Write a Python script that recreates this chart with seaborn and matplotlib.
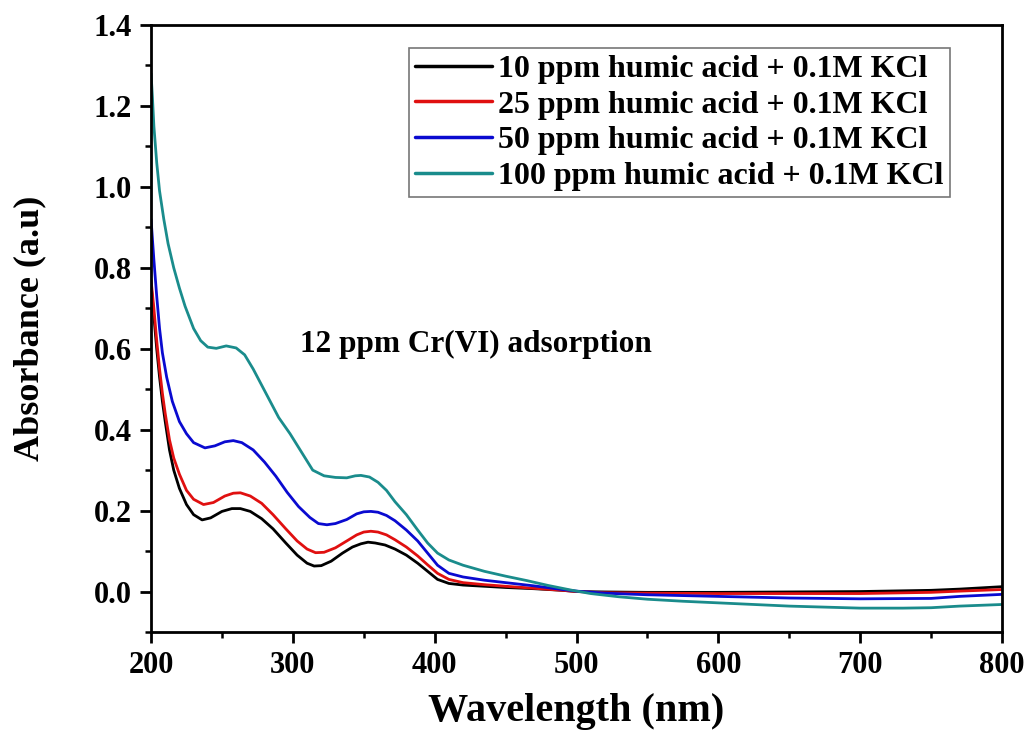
import matplotlib
matplotlib.use("Agg")
import matplotlib.pyplot as plt
from matplotlib.ticker import MultipleLocator
import numpy as np
import pandas as pd
import seaborn as sns

# wavelength (nm) / absorbance (a.u)
wl_10 = [200, 202, 204, 206, 208, 210, 213, 216, 220, 225, 230, 236, 242, 250, 257, 263, 270, 278, 286,
         295, 303, 310, 315, 320, 327, 335, 342, 348, 353, 358, 365, 372, 380, 388, 395, 402, 410, 420,
         435, 450, 470, 490, 500, 520, 550, 600, 650, 700, 750, 770, 800]
abs_10 = [0.76, 0.68, 0.60, 0.53, 0.47, 0.42, 0.35, 0.30, 0.255, 0.215, 0.19, 0.177, 0.182, 0.198, 0.205,
          0.205, 0.198, 0.18, 0.155, 0.12, 0.09, 0.07, 0.063, 0.064, 0.075, 0.095, 0.11, 0.118, 0.122,
          0.12, 0.115, 0.105, 0.09, 0.07, 0.05, 0.03, 0.02, 0.016, 0.013, 0.01, 0.007, 0.003, 0.0,
          -0.001, -0.002, -0.002, -0.001, 0.0, 0.003, 0.006, 0.012]

wl_25 = [200, 202, 204, 206, 208, 210, 213, 216, 220, 225, 230, 237, 244, 252, 258, 263, 270, 278, 286,
         295, 303, 310, 316, 322, 330, 338, 345, 350, 355, 360, 366, 372, 380, 388, 395, 402, 410, 420,
         435, 450, 470, 490, 500, 520, 550, 600, 650, 700, 750, 770, 800]
abs_25 = [0.77, 0.70, 0.62, 0.55, 0.49, 0.44, 0.375, 0.33, 0.29, 0.25, 0.228, 0.215, 0.22, 0.236, 0.243,
          0.244, 0.236, 0.218, 0.19, 0.155, 0.125, 0.105, 0.096, 0.097, 0.108, 0.125, 0.14, 0.147,
          0.149, 0.147, 0.14, 0.128, 0.11, 0.088, 0.066, 0.045, 0.03, 0.022, 0.017, 0.013, 0.008,
          0.003, 0.0, -0.003, -0.004, -0.005, -0.005, -0.005, -0.002, 0.001, 0.005]

wl_50 = [200, 202, 204, 206, 208, 211, 215, 220, 225, 230, 238, 245, 252, 258, 264, 272, 280, 288, 296,
         304, 312, 318, 324, 330, 338, 345, 350, 355, 360, 366, 372, 380, 388, 395, 402, 410, 420, 435,
         450, 470, 490, 500, 520, 550, 600, 650, 700, 750, 770, 800]
abs_50 = [0.92, 0.82, 0.73, 0.65, 0.59, 0.53, 0.47, 0.42, 0.39, 0.368, 0.355, 0.36, 0.37, 0.373, 0.368,
          0.35, 0.32, 0.285, 0.245, 0.21, 0.183, 0.168, 0.165, 0.168, 0.178, 0.192, 0.197, 0.198,
          0.196, 0.188, 0.175, 0.152, 0.125, 0.095, 0.065, 0.045, 0.036, 0.028, 0.022, 0.014, 0.005,
          0.001, -0.004, -0.008, -0.012, -0.016, -0.018, -0.017, -0.012, -0.007]

wl_100 = [200, 201, 202, 204, 206, 209, 212, 216, 220, 224, 230, 235, 240, 246, 253, 260, 266, 272, 278,
          284, 290, 298, 306, 314, 322, 330, 338, 344, 348, 354, 360, 366, 372, 380, 388, 395, 402, 410,
          420, 435, 450, 465, 480, 497, 510, 530, 550, 575, 600, 650, 700, 730, 750, 770, 800]
abs_100 = [1.28, 1.22, 1.15, 1.06, 0.99, 0.92, 0.86, 0.80, 0.75, 0.705, 0.65, 0.62, 0.604, 0.601, 0.607,
           0.602, 0.585, 0.55, 0.51, 0.47, 0.43, 0.39, 0.345, 0.30, 0.286, 0.282, 0.281, 0.286, 0.287,
           0.283, 0.27, 0.25, 0.222, 0.19, 0.152, 0.12, 0.095, 0.078, 0.065, 0.05, 0.038, 0.027, 0.015,
           0.003, -0.005, -0.013, -0.019, -0.024, -0.028, -0.036, -0.041, -0.041, -0.04, -0.036, -0.032]

labels = ["10 ppm humic acid + 0.1M KCl", "25 ppm humic acid + 0.1M KCl",
          "50 ppm humic acid + 0.1M KCl", "100 ppm humic acid + 0.1M KCl"]
colors = ["#000000", "#e01010", "#0a0ad0", "#1a8c8c"]

frames = []
for lab, x, y in zip(labels, [wl_10, wl_25, wl_50, wl_100], [abs_10, abs_25, abs_50, abs_100]):
    frames.append(pd.DataFrame({"Wavelength": x, "Absorbance": y, "Sample": lab}))
df = pd.concat(frames, ignore_index=True)

sns.set_style("ticks")
plt.rcParams["font.family"] = ["Liberation Serif", "DejaVu Serif"]
plt.rcParams["font.weight"] = "bold"
plt.rcParams["text.color"] = "black"
plt.rcParams["xtick.color"] = "black"
plt.rcParams["ytick.color"] = "black"
plt.rcParams["axes.labelcolor"] = "black"

fig = plt.figure(figsize=(10.31, 7.36), dpi=100)
ax = fig.add_axes([0.1465, 0.1413, 0.8254, 0.8247])

sns.lineplot(data=df, x="Wavelength", y="Absorbance", hue="Sample", hue_order=labels,
             palette=colors, linewidth=2.0, sort=False, estimator=None, ax=ax)

ax.set_xlim(200, 800)
ax.set_ylim(-0.1, 1.4)
ax.xaxis.set_major_locator(MultipleLocator(100))
ax.xaxis.set_minor_locator(MultipleLocator(50))
ax.set_yticks(np.arange(0.0, 1.41, 0.2))
ax.set_yticks(np.arange(-0.1, 1.41, 0.1), minor=True)
ax.yaxis.set_major_formatter(matplotlib.ticker.FormatStrFormatter("%.1f"))

for s in ax.spines.values():
    s.set_linewidth(2.0)
    s.set_color("black")
ax.tick_params(which="major", direction="out", length=8, width=2, labelsize=22, pad=6)
ax.tick_params(which="minor", direction="out", length=4.5, width=1.8)
ax.tick_params(top=False, right=False, which="both")

ax.set_xlabel("Wavelength (nm)", fontsize=29, fontweight="bold", labelpad=9)
ax.set_ylabel("Absorbance (a.u)", fontsize=26, fontweight="bold", labelpad=34)

ax.text(305, 0.61, "12 ppm Cr(VI) adsorption", fontsize=22.5, fontweight="bold", va="center", ha="left")

leg = ax.legend(loc="upper right", bbox_to_anchor=(0.939, 0.962), borderaxespad=0,
                fontsize=23, frameon=True, fancybox=False, handlelength=2.4, handletextpad=0.2,
                labelspacing=0.2, borderpad=0.2)
leg.get_frame().set_edgecolor("#555555")
leg.get_frame().set_linewidth(1.2)
for t in leg.get_texts():
    t.set_fontweight("bold")
for h in leg.get_lines():
    h.set_linewidth(2.5)

fig.savefig("out.png", dpi=100)
